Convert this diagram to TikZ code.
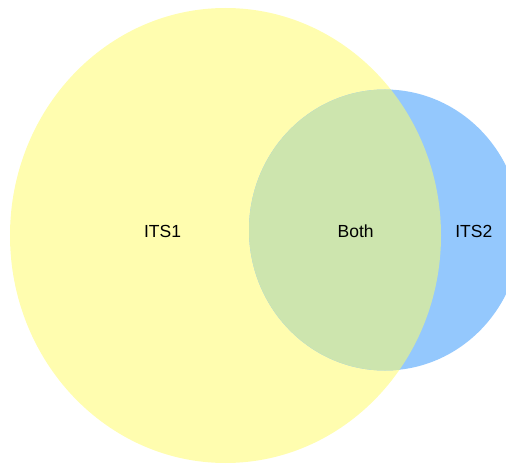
\documentclass[tikz,border=0pt]{standalone}
\usepackage{fontspec}
\setmainfont{Liberation Sans}
\definecolor{setA}{RGB}{255,253,175}
\definecolor{setB}{RGB}{148,200,253}
\definecolor{setAB}{RGB}{205,229,174}
\tikzset{lbl/.style={inner sep=0pt,font=\fontsize{17.5}{20}\selectfont,text=black}}
\begin{document}
\begin{tikzpicture}[x=1pt,y=-1pt]
\useasboundingbox (0,0) rectangle (506,465);
\clip (0,0) rectangle (506,465);
\fill[setA] (225.5,235.5) ellipse [x radius=215.5, y radius=227.5];
\fill[setB] (385,230) ellipse [x radius=136, y radius=140.5];
\begin{scope}
\clip (225.5,235.5) ellipse [x radius=215.5, y radius=227.5];
\fill[setAB] (385,230) ellipse [x radius=136, y radius=140.5];
\end{scope}
\node[lbl] (its1) at (162.5,231) {ITS1};
\node[lbl] (both) at (355.7,231) {Both};
\node[lbl] (its2) at (473.8,231) {ITS2};
\end{tikzpicture}
\end{document}
